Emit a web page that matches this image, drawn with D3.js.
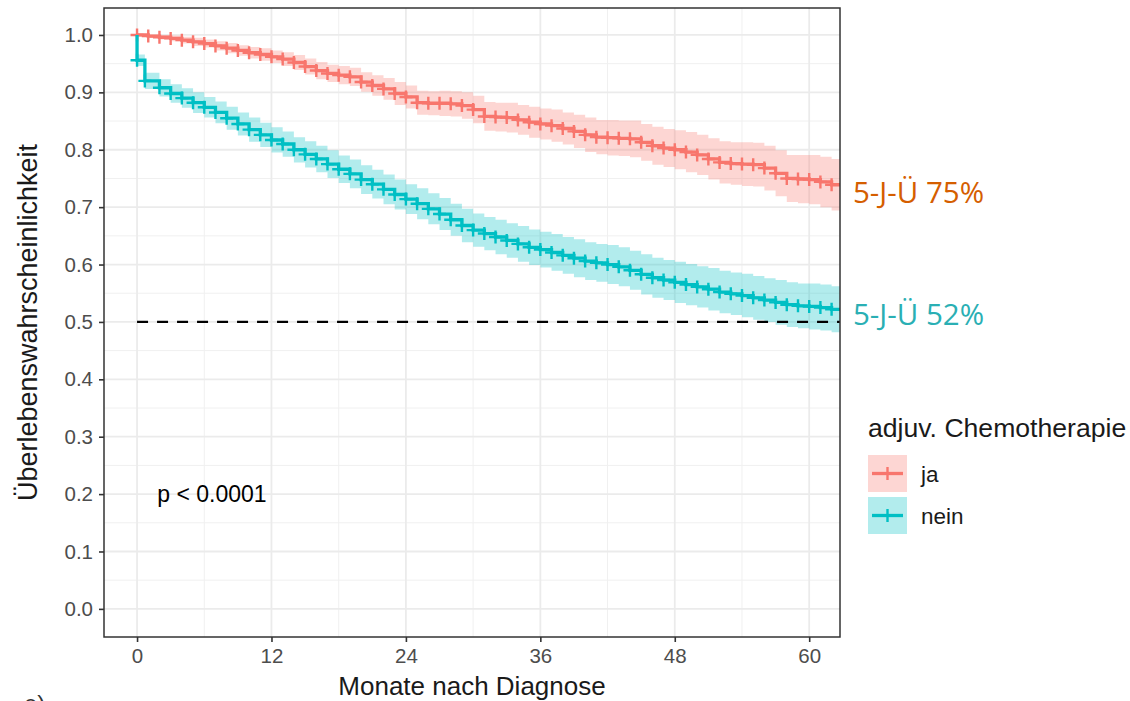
<!DOCTYPE html>
<html>
<head>
<meta charset="utf-8">
<script src="https://cdn.jsdelivr.net/npm/d3@7"></script>
<style>
body { margin: 0; background: #fff; }
svg { display: block; }
</style>
</head>
<body>
<svg id="chart" width="1130" height="701"></svg>
<script>
// monthly Kaplan-Meier estimates
var months = [0,1,2,3,4,5,6,7,8,9,10,11,12,13,14,15,16,17,18,19,20,21,22,23,24,25,26,27,28,29,30,
    31,32,33,34,35,36,37,38,39,40,41,42,43,44,45,46,47,48,49,50,51,52,53,54,55,56,57,58,59,60,61,62];
var survJa = [1.000,0.998,0.996,0.994,0.991,0.988,0.985,0.981,0.977,0.973,0.969,0.966,0.962,0.958,0.952,0.945,
    0.938,0.933,0.930,0.927,0.918,0.912,0.906,0.898,0.892,0.882,0.881,0.881,0.880,0.877,0.870,0.858,0.857,0.856,
    0.852,0.848,0.845,0.842,0.837,0.832,0.826,0.822,0.821,0.820,0.819,0.813,0.807,0.803,0.800,0.796,0.791,0.784,
    0.778,0.776,0.775,0.774,0.768,0.759,0.750,0.749,0.748,0.744,0.739];
var bandJa = [0.000,0.003,0.004,0.005,0.006,0.007,0.007,0.008,0.009,0.009,0.010,0.011,0.011,0.012,0.013,0.014,
    0.015,0.015,0.016,0.016,0.017,0.018,0.019,0.020,0.020,0.021,0.021,0.022,0.022,0.023,0.024,0.025,0.025,0.026,
    0.026,0.027,0.027,0.028,0.028,0.029,0.030,0.030,0.031,0.031,0.032,0.032,0.033,0.033,0.034,0.035,0.035,0.036,
    0.037,0.037,0.038,0.038,0.039,0.040,0.041,0.042,0.043,0.044,0.045];
var monthsNein = [0,0.7,2,3,4,5,6,7,8,9,10,11,12,13,14,15,16,17,18,19,20,21,22,23,24,25,26,27,28,29,30,
    31,32,33,34,35,36,37,38,39,40,41,42,43,44,45,46,47,48,49,50,51,52,53,54,55,56,57,58,59,60,61,62];
var survNein = [0.956,0.920,0.908,0.898,0.890,0.882,0.874,0.865,0.855,0.845,0.835,0.826,0.817,0.810,0.800,0.792,
    0.784,0.775,0.766,0.758,0.748,0.740,0.731,0.722,0.714,0.706,0.697,0.688,0.678,0.668,0.660,0.654,0.648,0.642,
    0.636,0.630,0.626,0.621,0.616,0.611,0.606,0.603,0.600,0.596,0.590,0.583,0.577,0.573,0.569,0.565,0.561,0.557,
    0.552,0.549,0.546,0.542,0.538,0.534,0.530,0.528,0.527,0.525,0.522];
var bandNein = [0.010,0.014,0.015,0.016,0.017,0.018,0.018,0.019,0.020,0.020,0.021,0.021,0.022,0.022,0.022,0.023,
    0.023,0.024,0.024,0.025,0.025,0.025,0.026,0.026,0.026,0.027,0.027,0.028,0.028,0.029,0.029,0.029,0.030,0.030,
    0.031,0.031,0.031,0.032,0.032,0.033,0.033,0.033,0.034,0.034,0.034,0.035,0.035,0.035,0.036,0.036,0.036,0.037,
    0.037,0.037,0.038,0.038,0.038,0.039,0.039,0.039,0.040,0.040,0.040];
var lastMonth = 62.8;

var groups = ["ja", "nein"];
var fiveYearLabels = ["5-J-Ü 75%", "5-J-Ü 52%"];
var xTicks = [0, 12, 24, 36, 48, 60];
var xMinor = [6, 18, 30, 42, 54];
var yTicks = [0, 0.1, 0.2, 0.3, 0.4, 0.5, 0.6, 0.7, 0.8, 0.9, 1.0];
var yMinor = [0.05, 0.15, 0.25, 0.35, 0.45, 0.55, 0.65, 0.75, 0.85, 0.95];
var medianLevel = 0.5;
var pText = "p < 0.0001";

var colors = { ja: "#F8766D", nein: "#00BFC4" };
var labelColors = ["#D55E00", "#2AAFB4"];

var panel = { left: 104, right: 840, top: 8, bottom: 637 };
var sans = "Liberation Sans, Arial, sans-serif";
var svg = d3.select("#chart");

var x = d3.scaleLinear().domain([-2.95, 62.75]).range([panel.left, panel.right]);
var y = d3.scaleLinear().domain([-0.049, 1.047]).range([panel.bottom, panel.top]);

svg.append("defs").append("clipPath").attr("id", "clip")
    .append("rect")
    .attr("x", panel.left).attr("y", panel.top)
    .attr("width", panel.right - panel.left).attr("height", panel.bottom - panel.top);

// grid
var grid = svg.append("g");
grid.selectAll(".xmin").data(xMinor).join("line")
    .attr("x1", function (d) { return x(d); }).attr("x2", function (d) { return x(d); })
    .attr("y1", panel.top).attr("y2", panel.bottom)
    .attr("stroke", "#f0f0f0").attr("stroke-width", 1);
grid.selectAll(".ymin").data(yMinor).join("line")
    .attr("y1", function (d) { return y(d); }).attr("y2", function (d) { return y(d); })
    .attr("x1", panel.left).attr("x2", panel.right)
    .attr("stroke", "#f0f0f0").attr("stroke-width", 1);
grid.selectAll(".xmaj").data(xTicks).join("line")
    .attr("x1", function (d) { return x(d); }).attr("x2", function (d) { return x(d); })
    .attr("y1", panel.top).attr("y2", panel.bottom)
    .attr("stroke", "#ebebeb").attr("stroke-width", 1.8);
grid.selectAll(".ymaj").data(yTicks).join("line")
    .attr("y1", function (d) { return y(d); }).attr("y2", function (d) { return y(d); })
    .attr("x1", panel.left).attr("x2", panel.right)
    .attr("stroke", "#ebebeb").attr("stroke-width", 1.8);

function buildSeries(times, surv, band, startAtOne) {
    var pts = times.map(function (m, i) {
        return { t: m, s: surv[i], lo: surv[i] - band[i], hi: surv[i] + band[i] };
    });
    var last = pts[pts.length - 1];
    pts.push({ t: lastMonth, s: last.s, lo: last.lo, hi: last.hi });
    var line = pts.slice();
    if (startAtOne) line.unshift({ t: 0, s: 1 });
    return { pts: pts, line: line, marks: pts.slice(0, times.length) };
}

var series = {
    ja: buildSeries(months, survJa, bandJa, false),
    nein: buildSeries(monthsNein, survNein, bandNein, true)
};

var plot = svg.append("g").attr("clip-path", "url(#clip)");

var area = d3.area().curve(d3.curveStepAfter)
    .x(function (d) { return x(d.t); })
    .y0(function (d) { return y(d.lo); })
    .y1(function (d) { return y(d.hi); });
var line = d3.line().curve(d3.curveStepAfter)
    .x(function (d) { return x(d.t); })
    .y(function (d) { return y(d.s); });

groups.forEach(function (g) {
    plot.append("path").datum(series[g].pts)
        .attr("d", area).attr("fill", colors[g]).attr("fill-opacity", 0.3);
});

// median line
plot.append("line")
    .attr("x1", x(0)).attr("x2", panel.right)
    .attr("y1", y(medianLevel)).attr("y2", y(medianLevel))
    .attr("stroke", "#000").attr("stroke-width", 2.2).attr("stroke-dasharray", "11,9");

groups.forEach(function (g) {
    plot.append("path").datum(series[g].line)
        .attr("d", line).attr("fill", "none")
        .attr("stroke", colors[g]).attr("stroke-width", 3.3);
    plot.append("g").selectAll("path").data(series[g].marks).join("path")
        .attr("d", function (d) {
            var cx = x(d.t), cy = y(d.s);
            return "M" + (cx - 6.5) + "," + cy + "H" + (cx + 6.5) + "M" + cx + "," + (cy - 6.5) + "V" + (cy + 6.5);
        })
        .attr("stroke", colors[g]).attr("stroke-width", 2.4);
});

// panel border
svg.append("rect")
    .attr("x", panel.left).attr("y", panel.top)
    .attr("width", panel.right - panel.left).attr("height", panel.bottom - panel.top)
    .attr("fill", "none").attr("stroke", "#333").attr("stroke-width", 1.5);

// axes
var xAxis = function (g) { return g
    .attr("transform", "translate(0," + panel.bottom + ")")
    .call(d3.axisBottom(x).tickValues(xTicks).tickSize(5).tickPadding(6).tickFormat(d3.format("d")))
    .call(function (g) { return g.select(".domain").remove(); })
    .call(function (g) { return g.selectAll("line").attr("stroke", "#333").attr("stroke-width", 1.6); })
    .selectAll("text").attr("font-size", "20.5px").attr("fill", "#4d4d4d"); };
var yAxis = function (g) { return g
    .attr("transform", "translate(" + panel.left + ",0)")
    .call(d3.axisLeft(y).tickValues(yTicks).tickSize(5).tickPadding(6).tickFormat(d3.format(".1f")))
    .call(function (g) { return g.select(".domain").remove(); })
    .call(function (g) { return g.selectAll("line").attr("stroke", "#333").attr("stroke-width", 1.6); })
    .selectAll("text").attr("font-size", "20.5px").attr("fill", "#4d4d4d"); };
svg.append("g").attr("font-family", sans).call(xAxis);
svg.append("g").attr("font-family", sans).call(yAxis);

svg.append("text")
    .attr("x", (panel.left + panel.right) / 2).attr("y", 695)
    .attr("text-anchor", "middle").attr("font-family", sans).attr("font-size", "26px").attr("fill", "#1a1a1a")
    .text("Monate nach Diagnose");
svg.append("text")
    .attr("transform", "translate(37," + ((panel.top + panel.bottom) / 2) + ") rotate(-90)")
    .attr("text-anchor", "middle").attr("font-family", sans).attr("font-size", "27px").attr("fill", "#1a1a1a")
    .text("Überlebenswahrscheinlichkeit");

svg.append("text")
    .attr("x", x(1.8)).attr("y", y(0.2) + 8)
    .attr("font-family", sans).attr("font-size", "23px").attr("fill", "#000")
    .text(pText);

// 5-year labels
svg.selectAll(".fy").data(fiveYearLabels).join("text")
    .attr("x", 853)
    .attr("y", function (d, i) { return [203, 325][i]; })
    .attr("font-family", "Open Sans, Noto Sans, sans-serif").attr("font-size", "29.5px")
    .attr("fill", function (d, i) { return labelColors[i]; })
    .text(function (d) { return d; });

// legend
var legend = svg.append("g").attr("transform", "translate(868,0)");
legend.append("text").attr("x", 0).attr("y", 437)
    .attr("font-family", sans).attr("font-size", "26.6px").attr("fill", "#1a1a1a")
    .text("adjuv. Chemotherapie");
groups.forEach(function (g, i) {
    var top = 455 + i * 42;
    legend.append("rect").attr("x", 0).attr("y", top).attr("width", 39).attr("height", 37)
        .attr("fill", colors[g]).attr("fill-opacity", 0.3);
    var cy = top + 18.5;
    legend.append("line").attr("x1", 4).attr("x2", 35).attr("y1", cy).attr("y2", cy)
        .attr("stroke", colors[g]).attr("stroke-width", 3.3);
    legend.append("path").attr("d", "M13," + cy + "H26M19.5," + (cy - 6.5) + "V" + (cy + 6.5))
        .attr("stroke", colors[g]).attr("stroke-width", 2.4);
    legend.append("text").attr("x", 53).attr("y", cy + 8)
        .attr("font-family", sans).attr("font-size", "22.5px").attr("fill", "#1a1a1a")
        .text(g);
});

// cut-off panel letter at bottom edge
svg.append("text").attr("x", 24).attr("y", 712)
    .attr("font-family", sans).attr("font-size", "24px").attr("fill", "#333")
    .text("e)");
</script>
</body>
</html>
